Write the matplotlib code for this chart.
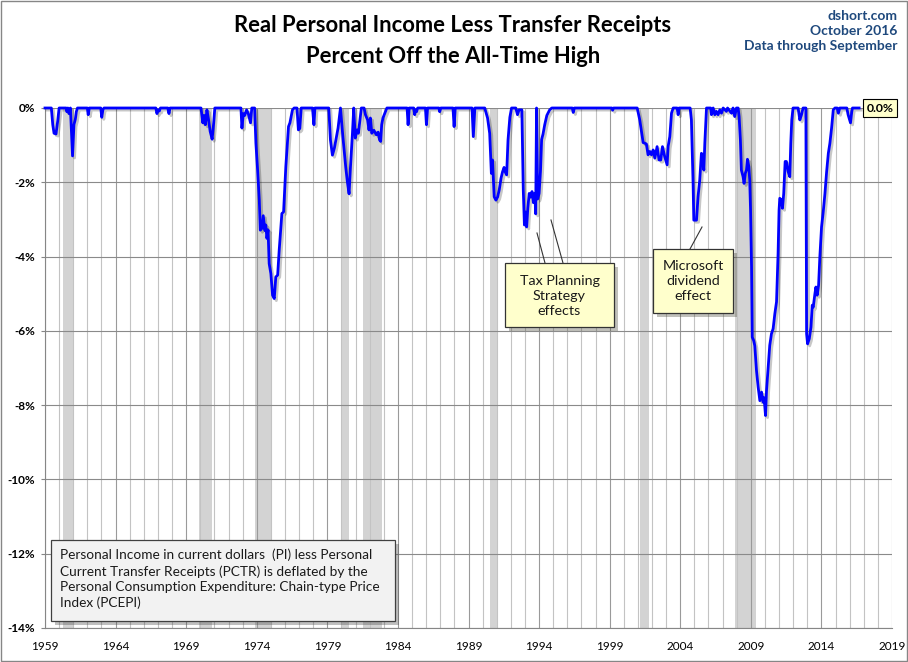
import matplotlib
matplotlib.use('Agg')
import matplotlib.pyplot as plt
import matplotlib.patheffects as pe
from matplotlib.patches import Rectangle
from matplotlib.lines import Line2D

plt.rcParams['font.family'] = ['Lato', 'DejaVu Sans']

W, H = 908, 662

# readings: decimal year, % below the all-time high
dates = [
    1959.00, 1959.45, 1959.55, 1959.64, 1959.78, 1959.90, 1960.00, 1960.50, 1960.55, 1960.62,
    1960.70, 1960.80, 1960.95, 1961.05, 1961.15, 1961.22, 1961.30, 1962.00, 1962.06, 1962.14,
    1962.95, 1963.02, 1963.10, 1963.18, 1966.85, 1966.93, 1967.00, 1967.10, 1967.18, 1967.70,
    1967.78, 1967.86, 1970.05, 1970.18, 1970.27, 1970.36, 1970.47, 1970.58, 1970.70, 1970.84,
    1970.95, 1971.03, 1972.88, 1972.95, 1973.05, 1973.15, 1973.28, 1973.40, 1973.56, 1973.65,
    1973.85, 1973.94, 1974.06, 1974.18, 1974.25, 1974.36, 1974.46, 1974.58, 1974.64, 1974.72,
    1974.80, 1974.88, 1975.00, 1975.12, 1975.24, 1975.35, 1975.48, 1975.59, 1975.78, 1975.90,
    1976.06, 1976.25, 1976.35, 1976.53, 1976.65, 1976.85, 1976.95, 1977.05, 1977.15, 1977.95,
    1978.05, 1978.12, 1979.10, 1979.22, 1979.36, 1979.50, 1979.65, 1979.76, 1979.93, 1980.10,
    1980.30, 1980.42, 1980.54, 1980.64, 1980.78, 1980.87, 1980.98, 1981.10, 1981.20, 1981.41,
    1981.60, 1981.70, 1981.85, 1981.95, 1982.05, 1982.15, 1982.30, 1982.47, 1982.60, 1982.70,
    1982.78, 1982.85, 1982.94, 1983.22, 1984.65, 1984.72, 1984.80, 1985.12, 1985.19, 1985.25,
    1985.32, 1985.40, 1985.95, 1986.02, 1986.10, 1986.90, 1986.96, 1987.04, 1987.90, 1987.98,
    1988.06, 1989.25, 1989.34, 1989.45, 1990.15, 1990.35, 1990.50, 1990.62, 1990.70, 1990.82,
    1990.94, 1991.06, 1991.18, 1991.30, 1991.41, 1991.52, 1991.60, 1991.70, 1991.80, 1991.93,
    1992.05, 1992.35, 1992.47, 1992.58, 1992.70, 1992.78, 1992.88, 1992.96, 1993.04, 1993.12,
    1993.20, 1993.30, 1993.40, 1993.50, 1993.60, 1993.70, 1993.76, 1993.82, 1993.90, 1994.00,
    1994.10, 1994.18, 1994.28, 1994.40, 1994.55, 1994.75, 1994.90, 1996.35, 1996.42, 1996.50,
    1999.15, 1999.21, 1999.28, 2000.95, 2001.13, 2001.25, 2001.37, 2001.50, 2001.60, 2001.72,
    2001.84, 2001.96, 2002.08, 2002.20, 2002.36, 2002.50, 2002.62, 2002.74, 2002.90, 2003.07,
    2003.14, 2003.26, 2003.38, 2003.50, 2003.78, 2003.85, 2003.92, 2004.70, 2004.79, 2004.91,
    2004.96, 2005.15, 2005.26, 2005.38, 2005.50, 2005.58, 2005.67, 2005.74, 2005.86, 2006.15,
    2006.21, 2006.33, 2006.45, 2006.56, 2006.68, 2006.80, 2006.92, 2007.04, 2007.27, 2007.35,
    2007.63, 2007.74, 2007.86, 2007.98, 2008.10, 2008.17, 2008.26, 2008.33, 2008.45, 2008.52,
    2008.61, 2008.69, 2008.76, 2008.86, 2008.92, 2008.98, 2009.05, 2009.10, 2009.20, 2009.28,
    2009.40, 2009.52, 2009.64, 2009.76, 2009.87, 2009.94, 2010.04, 2010.11, 2010.23, 2010.34,
    2010.46, 2010.58, 2010.70, 2010.82, 2010.93, 2011.00, 2011.05, 2011.17, 2011.24, 2011.33,
    2011.43, 2011.52, 2011.64, 2011.76, 2011.83, 2011.90, 2011.99, 2012.35, 2012.47, 2012.59,
    2012.70, 2012.90, 2012.95, 2013.02, 2013.14, 2013.26, 2013.35, 2013.42, 2013.54, 2013.61,
    2013.70, 2013.80, 2013.89, 2014.01, 2014.13, 2014.25, 2014.37, 2014.49, 2014.60, 2014.72,
    2014.84, 2014.96, 2015.12, 2015.20, 2015.30, 2015.80, 2015.89, 2016.06, 2016.15, 2016.20,
    2016.67,
]
pct_off_high = [
    0.00, 0.00, -0.45, -0.68, -0.70, -0.35, 0.00, 0.00, -0.10, 0.00,
    -0.15, 0.00, -1.29, -0.45, -0.30, -0.10, 0.00, 0.00, -0.18, 0.00,
    0.00, -0.25, -0.05, 0.00, 0.00, -0.15, -0.05, -0.08, 0.00, 0.00,
    -0.15, 0.00, 0.00, -0.40, -0.20, -0.45, -0.05, -0.30, -0.63, -0.84,
    -0.40, 0.00, 0.00, -0.54, -0.15, -0.20, -0.05, -0.15, -0.40, 0.00,
    0.00, -0.95, -1.67, -2.48, -3.29, -3.24, -2.90, -3.30, -3.15, -3.51,
    -3.28, -4.19, -4.46, -5.04, -5.13, -4.55, -4.50, -3.83, -2.84, -2.80,
    -1.58, -0.50, -0.40, -0.05, 0.00, 0.00, -0.59, -0.55, 0.00, 0.00,
    -0.45, 0.00, 0.00, -0.86, -1.27, -1.08, -0.77, -0.54, 0.00, -0.77,
    -1.58, -1.99, -2.31, -1.58, -0.68, 0.00, -0.81, -0.59, -0.68, 0.00,
    0.00, -0.18, -0.32, -0.59, -0.27, -0.68, -0.60, -0.72, -0.65, -0.86,
    -0.90, -0.45, -0.27, 0.00, 0.00, -0.45, 0.00, 0.00, -0.18, -0.05,
    -0.10, 0.00, 0.00, -0.45, 0.00, 0.00, -0.10, 0.00, 0.00, -0.50,
    0.00, 0.00, -0.77, 0.00, 0.00, -0.27, -0.68, -1.76, -1.40, -2.39,
    -2.48, -2.40, -2.20, -1.90, -1.72, -1.60, -1.72, -1.80, -0.86, -0.25,
    0.00, 0.00, -0.18, -0.05, -0.05, -0.05, -2.20, -3.15, -2.80, -3.20,
    -2.70, -2.30, -2.40, -2.25, -2.55, -2.30, -2.85, 0.00, -2.45, -2.30,
    -1.70, -0.85, -0.70, -0.45, -0.20, -0.05, 0.00, 0.00, -0.12, 0.00,
    0.00, -0.06, 0.00, 0.00, -0.32, -0.63, -0.93, -0.95, -0.97, -1.26,
    -1.17, -1.26, -1.13, -1.35, -1.04, -1.40, -1.40, -1.04, -1.31, -1.53,
    -1.04, -0.77, -0.14, 0.00, 0.00, -0.18, 0.00, 0.00, -0.32, -2.03,
    -3.02, -3.02, -2.39, -1.94, -1.22, -1.26, -1.67, -0.95, 0.00, 0.00,
    -0.18, 0.00, -0.18, -0.09, -0.18, -0.05, -0.14, 0.00, -0.09, 0.00,
    -0.14, 0.00, -0.23, 0.00, 0.00, -0.23, -0.86, -1.67, -1.85, -2.03,
    -1.76, -1.67, -1.38, -1.58, -1.94, -2.75, -4.28, -6.17, -6.26, -6.40,
    -7.07, -7.52, -7.88, -7.65, -7.92, -7.80, -8.28, -7.61, -6.98, -6.39,
    -6.08, -5.94, -5.54, -5.22, -3.92, -2.75, -2.43, -2.48, -2.70, -2.30,
    -1.44, -1.44, -1.71, -1.85, -0.95, -0.32, 0.00, 0.00, -0.32, -0.18,
    0.00, 0.00, -6.08, -6.35, -6.21, -5.90, -5.31, -5.36, -5.00, -4.82,
    -5.04, -4.77, -4.00, -3.20, -2.79, -2.30, -1.71, -1.22, -0.95, -0.54,
    -0.05, 0.00, 0.00, -0.14, 0.00, 0.00, -0.18, -0.40, -0.10, 0.00,
    0.00,
]

# recession bands (decimal years)
rec_start = [1960.29, 1969.92, 1973.85, 1980.00, 1981.50, 1990.50, 2001.13, 2007.90]
rec_end = [1961.08, 1970.80, 1975.10, 1980.50, 1982.85, 1991.05, 2001.80, 2009.40]

year_ticks = list(range(1959, 2020, 5))
pct_ticks = list(range(0, -15, -2))

title = "Real Personal Income Less Transfer Receipts\nPercent Off the All-Time High"
source_lines = "dshort.com\nOctober 2016\nData through September"
tax_note = "Tax Planning\nStrategy\neffects"
msft_note = "Microsoft\ndividend\neffect"
method_note = ("Personal Income in current dollars  (PI) less Personal\n"
               "Current Transfer Receipts (PCTR) is deflated by the\n"
               "Personal Consumption Expenditure: Chain-type Price\n"
               "Index (PCEPI)")


def fx(x):
    return x / W


def fy(y):
    return 1 - y / H


fig = plt.figure(figsize=(W / 100, H / 100), dpi=100)
fig.patch.set_facecolor('white')

ax = fig.add_axes([fx(45), fy(628), fx(892) - fx(45), fy(108) - fy(628)])
ax.set_xlim(1959, 2019)
ax.set_ylim(-14, 0)

for s, e in zip(rec_start, rec_end):
    ax.axvspan(s, e, color='#d3d3d3', lw=0, zorder=0)

ax.set_xticks(year_ticks)
ax.set_xticks(range(1959, 2020), minor=True)
ax.set_yticks(pct_ticks)
ax.set_xticklabels([str(y) for y in year_ticks])
ax.set_yticklabels([f"{v}%" for v in pct_ticks], fontweight='bold')
ax.tick_params(axis='x', which='both', length=0, pad=9, labelsize=8.5, colors='black')
ax.tick_params(axis='y', length=3, pad=4, labelsize=8.5, color='#868686')
ax.grid(axis='x', which='minor', color='#c3c3c3', lw=0.8, zorder=1)
ax.grid(axis='x', which='major', color='#9a9a9a', lw=0.8, zorder=1)
ax.grid(axis='y', color='#8a8a8a', lw=0.8, zorder=1)
ax.set_axisbelow(True)
for side in ['top', 'right']:
    ax.spines[side].set_visible(False)
for side in ['left', 'bottom']:
    ax.spines[side].set_color('#868686')
    ax.spines[side].set_linewidth(0.8)

ax.plot(dates, pct_off_high, color='#0000ff', lw=2.0, zorder=5, clip_on=False,
        solid_joinstyle='round',
        path_effects=[pe.SimpleLineShadow(offset=(1.5, -1.5), shadow_color='black', alpha=0.22),
                      pe.Normal()])

# last value label
ax.annotate(f"{abs(pct_off_high[-1]):.1f}%", xy=(dates[-1], pct_off_high[-1]),
            xytext=(15, 0), textcoords='offset points', ha='center', va='center',
            fontsize=8.8, fontweight='bold', zorder=12, annotation_clip=False,
            bbox=dict(boxstyle='square,pad=0.3', fc='#ffffcc', ec='black', lw=0.8))

# titles
fig.text(fx(453), fy(41), title, ha='center', va='center', fontsize=15.8,
         fontweight='bold', linespacing=1.6)
fig.text(fx(897), fy(31), source_lines, ha='right', va='center', fontsize=10,
         fontweight='bold', color='#1f497d', linespacing=1.3)


def note_box(x0, y0, x1, y1, face, edge):
    r = Rectangle((fx(x0), fy(y1)), fx(x1) - fx(x0), fy(y0) - fy(y1),
                  transform=fig.transFigure, facecolor=face, edgecolor=edge, lw=0.9,
                  zorder=10,
                  path_effects=[pe.withSimplePatchShadow(offset=(3, -3), alpha=0.35)])
    fig.add_artist(r)


def leader(x0, y0, x1, y1):
    fig.add_artist(Line2D([fx(x0), fx(x1)], [fy(y0), fy(y1)], transform=fig.transFigure,
                          color='#333333', lw=0.8, zorder=9))


leader(545, 263, 537, 233)
leader(563, 263, 551, 220)
note_box(505, 263, 614, 327, '#ffffcc', '#333333')
fig.text(fx(559.5), fy(296), tax_note, ha='center', va='center', fontsize=10.3,
         linespacing=1.3, color='#1a1a1a', zorder=11)

leader(690, 249, 702, 227)
note_box(653, 249, 733, 313, '#ffffcc', '#333333')
fig.text(fx(693), fy(281), msft_note, ha='center', va='center', fontsize=10.3,
         linespacing=1.3, color='#1a1a1a', zorder=11)

note_box(51, 540, 395, 621, '#f2f2f2', '#404040')
fig.text(fx(60), fy(579), method_note, ha='left', va='center', fontsize=9.8,
         linespacing=1.35, color='#1a1a1a', zorder=11)

# outer chart border
fig.add_artist(Rectangle((fx(1), fy(661)), fx(906), fy(1) - fy(661), transform=fig.transFigure,
                         fill=False, edgecolor='#868686', lw=1, zorder=20))

fig.savefig('out.png', dpi=100)
